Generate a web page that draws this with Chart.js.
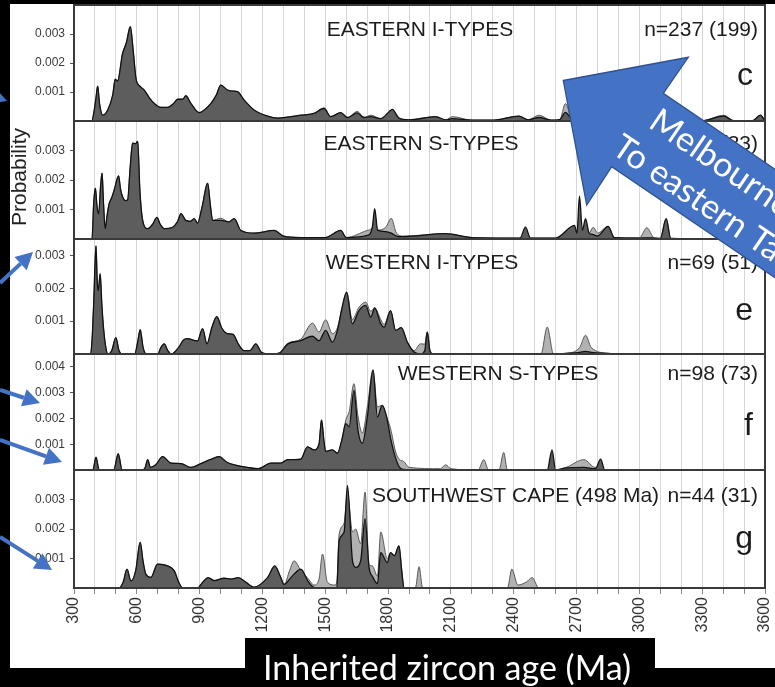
<!DOCTYPE html>
<html>
<head>
<meta charset="utf-8">
<title>Inherited zircon age spectra</title>
<script src="https://cdn.jsdelivr.net/npm/chart.js@4.4.1/dist/chart.umd.min.js"></script>
<style>
  html, body { margin: 0; padding: 0; background: #000; }
  #wrap { position: relative; width: 775px; height: 687px; }
</style>
</head>
<body>
<div id="wrap"><canvas id="c" width="775" height="687"></canvas></div>
<script>
// ---------- x axis ----------
const ageLabels = [300, 600, 900, 1200, 1500, 1800, 2100, 2400, 2700, 3000, 3300, 3600];

// ---------- panel c: Eastern I-types ----------
const eastIAges = [300,385,395,405,413,422,437,461,485,497,508,532,550,569,583,596,615,635,660,683,715,747,775,795,819,834,858,898,925,954,980,1001,1033,1060,1081,1113,1160,1224,1272,1335,1383,1446,1494,1526,1574,1606,1653,1685,1717,1765,1805,1820,1852,1900,2027,2075,2107,2200,2300,2425,2470,2520,2580,2620,2647,2680,2750,2900,3100,3300,3403,3450,3540,3578,3600];
const eastIDark = [0,0,0.0003,0.0008,0.0012,0.0006,0.0002,0.00038,0.0009,0.00144,
  0.00138,0.00233,0.0027,0.00325,0.0024,0.00147,0.0012,0.00107,0.0008,0.00061,
  0.00047,0.00047,0.0006,0.00075,0.00075,0.00087,0.00061,0.00029,0.0004,0.00061,
  0.0009,0.00124,0.00107,0.00103,0.00101,0.00072,0.00038,0.00017,0.0001,0.00015,
  0.0002,0.00026,0.00044,0.00015,0.00029,0.00012,0.00028,0.00012,0.00015,0.00008,
  0.00032,0.0004,0.0001,0.00004,0.00015,0.00004,0.00008,0.00003,0.00003,0.00017,
  0.00004,0.00012,0.00003,0.00005,0.0003,0.00005,0.00002,0.00002,0.00002,0.00001,
  0.00017,0.00001,0.00001,0.0002,0];
const eastILight = [0,0,0.0003,0.0008,0.0012,0.0006,0.0002,0.00038,0.0009,0.00144,
  0.00138,0.00233,0.0027,0.00325,0.0024,0.00147,0.0012,0.00107,0.0008,0.00061,
  0.00047,0.00047,0.0006,0.00075,0.00075,0.00087,0.00061,0.00029,0.0004,0.00061,
  0.0009,0.00124,0.00107,0.00103,0.00101,0.00072,0.00038,0.00017,0.0001,0.00015,
  0.0002,0.00026,0.00044,0.00015,0.00029,0.00012,0.00033,0.00012,0.0002,0.00008,
  0.00032,0.0004,0.0001,0.00004,0.00015,0.00004,0.00015,0.00003,0.00003,0.00017,
  0.00004,0.0002,0.00003,0.00005,0.0006,0.00005,0.00002,0.00002,0.00002,0.00001,
  0.0002,0.00001,0.00001,0.0002,0];

// ---------- panel d: Eastern S-types ----------
const eastSAges = [300,386,394,402,410,418,427,434,441,449,458,468,480,492,513,522,532,545,556,568,580,593,604,615,628,652,675,696,712,731,771,795,811,834,855,874,890,912,938,952,962,1001,1040,1065,1097,1160,1256,1300,1383,1500,1574,1600,1700,1725,1736,1750,1789,1815,1840,1870,2075,2200,2430,2456,2480,2600,2690,2702,2714,2728,2743,2760,2780,2800,2851,2880,3000,3036,3070,3100,3128,3150,3600];
const eastSDark = [0,0,0.0012,0.00172,0.0011,0.00086,0.0018,0.00223,0.0012,0.00035,
  0.0008,0.0012,0.0014,0.00166,0.00214,0.0017,0.00143,0.0013,0.00132,0.0024,
  0.00325,0.00323,0.00331,0.0016,0.00063,0.00035,0.0005,0.00073,0.0005,0.00035,
  0.0004,0.0006,0.00086,0.00063,0.0006,0.00069,0.00054,0.0011,0.00189,0.0011,
  0.00063,0.00063,0.00058,0.00069,0.00029,0.0002,0.00029,0.0001,0.00005,0.00005,
  0.00029,0.00005,0.00012,0.0004,0.00103,0.0003,0.00025,0.0002,0.0001,0.00008,
  0.00018,0.00005,0.00003,0.0004,0.00003,0.00003,0.00046,0.0002,0.00145,0.0003,
  0.00069,0.0002,0.00015,0.0001,0.00043,0.00005,0.00003,0.00004,0.00003,0.00002,
  0.00069,0.00002,0];
const eastSLight = [0,0,0.0012,0.00172,0.0011,0.00086,0.0018,0.00223,0.0012,0.00035,
  0.0008,0.0012,0.0014,0.00166,0.00214,0.0017,0.00143,0.0013,0.00132,0.0024,
  0.00325,0.00323,0.00331,0.0016,0.00063,0.00035,0.0005,0.00073,0.0005,0.00035,
  0.0004,0.0006,0.00086,0.00063,0.0006,0.00069,0.00054,0.0011,0.00189,0.0011,
  0.00063,0.0007,0.00058,0.00069,0.00029,0.0002,0.00029,0.0001,0.00005,0.00005,
  0.00029,0.00005,0.00029,0.0004,0.0008,0.0003,0.0004,0.0007,0.0002,0.0001,
  0.00018,0.00005,0.00003,0.0002,0.00003,0.00003,0.0003,0.0002,0.0004,0.0003,
  0.0005,0.0002,0.0004,0.0002,0.00043,0.00005,0.00004,0.00038,0.00004,0.00002,
  0.00069,0.00002,0];

// ---------- panel e: Western I-types ----------
const westIAges = [300,378,386,394,405,411,416,425,433,442,452,461,480,500,515,532,590,605,616,630,645,700,715,731,748,765,800,822,842,870,890,914,935,958,982,1005,1033,1060,1085,1113,1140,1168,1195,1224,1280,1320,1383,1439,1470,1502,1534,1558,1580,1602,1629,1661,1693,1717,1736,1765,1781,1812,1836,1863,1892,1924,1955,1975,1987,2000,2015,2530,2560,2590,2650,2715,2743,2770,2850,2900,3600];
const westIDark = [0,0,0.0004,0.00153,0.00329,0.0022,0.00193,0.00244,0.0015,0.00072,
  0.0002,0,0.0001,0.0005,0.0001,0,0,0.0004,0.00074,0.0002,
  0,0,0.0002,0.00031,0.0001,0,0.0002,0.00042,0.00047,0.00042,
  0.0004,0.00077,0.00031,0.0008,0.00114,0.0008,0.00062,0.0006,0.0003,0.0001,
  0.0001,0.00031,0.00005,0,0.00003,0.0003,0.00041,0.00054,0.0004,0.00072,
  0.00036,0.00072,0.0014,0.00188,0.00092,0.00132,0.00148,0.00112,0.0014,0.00092,
  0.00082,0.00132,0.00072,0.0008,0.00036,0.00006,0,0.0001,0.00067,0.0001,
  0,0,0,0,0.00002,0.00005,0.00008,0.00005,0.00002,0,
  0];
const westILight = [0,0,0.0004,0.00153,0.00329,0.0022,0.00193,0.00244,0.0015,0.00072,
  0.0002,0,0.0001,0.0005,0.0001,0,0,0.0004,0.00074,0.0002,
  0,0,0.0002,0.00031,0.0001,0,0.0002,0.00042,0.00047,0.00042,
  0.0004,0.00077,0.00031,0.0008,0.00114,0.0008,0.00062,0.0006,0.0003,0.0001,
  0.0001,0.00031,0.00005,0,0.00003,0.00032,0.00045,0.00094,0.00067,0.00104,
  0.00062,0.0008,0.0014,0.00188,0.00105,0.00142,0.00158,0.0013,0.0014,0.00105,
  0.0009,0.00132,0.00072,0.0008,0.00036,0.0001,0.00031,0.0003,0.00067,0.0001,
  0,0,0.00082,0,0.00002,0.0002,0.00057,0.0002,0.00002,0,
  0];

// ---------- panel f: Western S-types ----------
const westSAges = [300,390,405,420,490,511,530,625,640,652,665,690,723,763,811,858,906,950,993,1030,1065,1129,1180,1240,1288,1320,1351,1383,1415,1446,1470,1482,1494,1502,1534,1558,1580,1598,1614,1637,1656,1677,1701,1728,1749,1772,1793,1812,1836,1855,1875,1900,2050,2075,2100,2230,2257,2280,2330,2352,2370,2560,2583,2600,2650,2735,2790,2815,2835,3600];
const westSDark = [0,0,0.0005,0,0,0.00063,0,0,0.0001,0.0004,
  0.0001,0.0002,0.00052,0.00027,0.00025,0.0001,0.00025,0.0004,0.00052,0.0003,
  0.0002,0.0001,0.00005,0.00027,0.00027,0.0004,0.0004,0.00042,0.0009,0.00078,
  0.001,0.00194,0.0011,0.00072,0.00078,0.00065,0.0012,0.0018,0.00168,0.00309,
  0.00155,0.00104,0.00206,0.00388,0.00206,0.00251,0.00206,0.00123,0.00046,0.0001,
  0.00002,0,0,0,0,0,0,0,0,0,
  0,0,0.00078,0,0.00008,0.0001,0.00005,0.00042,0,0];
const westSLight = [0,0,0.0005,0,0,0.00063,0,0,0.0001,0.0004,
  0.0001,0.0002,0.00052,0.00027,0.00025,0.0001,0.00025,0.0004,0.00052,0.0003,
  0.0002,0.0001,0.00005,0.00027,0.00027,0.0004,0.0004,0.00042,0.0009,0.00078,
  0.001,0.00194,0.0011,0.00072,0.00078,0.00065,0.0012,0.00194,0.00226,0.00335,
  0.0021,0.00143,0.00245,0.00388,0.00245,0.00251,0.00206,0.0016,0.0007,0.0004,
  0.00033,0.0001,0.00005,0.0002,0.00005,0,0.0004,0,0,0.00068,
  0,0,0,0,0.0001,0.0004,0.0001,0.0002,0,0];

// ---------- panel g: Southwest Cape ----------
const swCapeAges = [300,516,535,553,572,595,616,630,643,667,699,747,779,800,819,890,915,941,970,1017,1050,1084,1120,1160,1224,1259,1285,1304,1330,1351,1383,1420,1446,1470,1487,1510,1545,1555,1566,1590,1606,1630,1645,1669,1690,1709,1725,1749,1765,1796,1812,1830,1852,1865,1876,1930,1948,1965,2370,2391,2420,2460,2488,2520,3600];
const swCapeDark = [0,0,0.0002,0.00064,0.00024,0.0006,0.00155,0.0009,0.00047,0.00036,
  0.00081,0.00075,0.00058,0.0002,0,0,0.0002,0.00035,0.00025,0.00033,
  0.0003,0.00035,0.0002,0.00003,0.00035,0.00075,0.0004,0.00012,0.0003,0.00047,
  0.00064,0.0002,0.00002,0,0,0,0,0,0.0016,0.0019,
  0.00348,0.00092,0.0007,0.00092,0.00235,0.0007,0.0004,0.00015,0.0012,0.00086,
  0.0012,0.0011,0.00143,0.0006,0,0,0,0,0,0,
  0,0,0,0,0];
const swCapeLight = [0,0,0.0002,0.00064,0.00024,0.0006,0.00155,0.0009,0.00047,0.00036,
  0.00081,0.00075,0.00058,0.0002,0,0,0.0002,0.00035,0.00025,0.00033,
  0.0003,0.00035,0.0002,0.00003,0.00035,0.00075,0.0004,0.00012,0.0006,0.00092,
  0.0006,0.0003,0.0001,0.0003,0.00115,0.0002,0.0001,0.0002,0.0018,0.0022,
  0.0032,0.0019,0.002,0.0015,0.00325,0.0008,0.00075,0.0004,0.0019,0.001,
  0.0012,0.0011,0.00143,0.0006,0,0,0.00072,0,0,0.00064,
  0.0001,0.0002,0.00035,0,0];

// ---------- panel text ----------
const panelTitles = ['EASTERN I-TYPES', 'EASTERN S-TYPES', 'WESTERN I-TYPES', 'WESTERN S-TYPES', 'SOUTHWEST CAPE (498 Ma)'];
const panelCounts = ['n=237 (199)', 'n=45 (33)', 'n=69 (51)', 'n=98 (73)', 'n=44 (31)'];
const panelLetters = ['c', 'd', 'e', 'f', 'g'];
const panelYMax = [0.004, 0.004, 0.0035, 0.0045, 0.004];
const panelYTicks = [
  [0.001, 0.002, 0.003],
  [0.001, 0.002, 0.003],
  [0.001, 0.002, 0.003],
  [0.001, 0.002, 0.003, 0.004],
  [0.001, 0.002, 0.003]
];

const panelSeries = [
  [eastIAges, eastIDark, eastILight],
  [eastSAges, eastSDark, eastSLight],
  [westIAges, westIDark, westILight],
  [westSAges, westSDark, westSLight],
  [swCapeAges, swCapeDark, swCapeLight]
];

// ---------- layout / style ----------
const axisIds = ['yC', 'yD', 'yE', 'yF', 'yG'];
const panelHeights = [116, 118, 115, 116, 118];
const titleX = [420, 421, 422, 498, 372];
const titleAlign = ['center', 'center', 'center', 'center', 'left'];
const titleDy = [31, 29, 30, 26, 32];
const letterDy = [80, 80, 81, 81, 78];
const SANS = '"Liberation Sans", Arial, Helvetica, sans-serif';
const BLUE = '#4472C4';

function toPoints(ages, vals) {
  return ages.map((a, k) => ({ x: a, y: vals[k] }));
}

const datasets = [];
panelSeries.forEach(([ages, dark, light], i) => {
  datasets.push({
    label: panelTitles[i] + ' all',
    data: toPoints(ages, light),
    yAxisID: axisIds[i],
    fill: 'origin',
    backgroundColor: '#b1b1b1',
    borderColor: '#585858',
    borderWidth: 1,
    pointRadius: 0,
    cubicInterpolationMode: 'monotone',
    order: 2
  });
  datasets.push({
    label: panelTitles[i] + ' concordant',
    data: toPoints(ages, dark),
    yAxisID: axisIds[i],
    fill: 'origin',
    backgroundColor: '#5d5d5d',
    borderColor: '#111',
    borderWidth: 1.3,
    pointRadius: 0,
    cubicInterpolationMode: 'monotone',
    order: 1
  });
});

function yAxis(i) {
  return {
    type: 'linear',
    position: 'left',
    stack: 'panels',
    stackWeight: panelHeights[i],
    weight: 5 - i,
    min: 0,
    max: panelYMax[i],
    afterFit(s) {
      s.width = 64;
      s.paddingTop = 0;
      s.paddingBottom = 0;
    },
    afterBuildTicks(s) { s.ticks = panelYTicks[i].map(v => ({ value: v })); },
    ticks: {
      font: { family: SANS, size: 12 },
      color: '#3a3a3a',
      padding: 5,
      callback: v => v.toFixed(3)
    },
    grid: { drawOnChartArea: false, drawTicks: true, tickLength: 4, tickColor: '#555' },
    border: { display: false }
  };
}

const scales = {
  x: {
    type: 'linear',
    position: 'bottom',
    min: 300,
    max: 3600,
    afterFit(s) {
      s.height = 99;
      s.paddingLeft = 0;
      s.paddingRight = 0;
    },
    ticks: {
      stepSize: 100,
      autoSkip: false,
      maxRotation: 90,
      minRotation: 90,
      padding: 3,
      font: { family: SANS, size: 16 },
      color: '#333',
      callback: v => (ageLabels.includes(v) ? String(v) : '')
    },
    grid: { color: '#d6d6d6', lineWidth: 1, drawTicks: true, tickLength: 6, tickColor: '#888' },
    border: { display: false }
  }
};
axisIds.forEach((id, i) => { scales[id] = yAxis(i); });

// page backdrop: black surround with the white figure sheet
const backdrop = {
  id: 'backdrop',
  beforeDraw(chart) {
    const { ctx, width, height } = chart;
    ctx.save();
    ctx.fillStyle = '#000';
    ctx.fillRect(0, 0, width, height);
    ctx.fillStyle = '#fff';
    ctx.fillRect(10, 4, 765, 664);
    ctx.restore();
  }
};

// panel borders, titles, sample counts and panel letters
const panelDecor = {
  id: 'panelDecor',
  afterDatasetsDraw(chart) {
    const { ctx, chartArea: a } = chart;
    ctx.save();
    axisIds.forEach((id, i) => {
      const s = chart.scales[id];
      ctx.strokeStyle = '#3a3a3a';
      ctx.lineWidth = 2;
      ctx.strokeRect(a.left, s.top, a.right - a.left, s.bottom - s.top);

      ctx.fillStyle = '#1c1c1c';
      ctx.textBaseline = 'alphabetic';
      ctx.font = '21px ' + SANS;
      ctx.textAlign = titleAlign[i];
      ctx.fillText(panelTitles[i], titleX[i], s.top + titleDy[i]);
      ctx.textAlign = 'right';
      ctx.fillText(panelCounts[i], a.right - 7, s.top + titleDy[i]);

      ctx.font = '32px ' + SANS;
      ctx.fillText(panelLetters[i], a.right - 12, s.top + letterDy[i]);
    });
    ctx.restore();
  }
};

function smallArrow(ctx, x0, y0, x1, y1) {
  const ang = Math.atan2(y1 - y0, x1 - x0);
  const head = 17, half = 9;
  const bx = x1 - head * Math.cos(ang), by = y1 - head * Math.sin(ang);
  ctx.beginPath();
  ctx.moveTo(x0, y0);
  ctx.lineTo(bx, by);
  ctx.lineWidth = 4;
  ctx.strokeStyle = BLUE;
  ctx.stroke();
  ctx.beginPath();
  ctx.moveTo(x1, y1);
  ctx.lineTo(bx + half * Math.sin(ang), by - half * Math.cos(ang));
  ctx.lineTo(bx - half * Math.sin(ang), by + half * Math.cos(ang));
  ctx.closePath();
  ctx.fillStyle = BLUE;
  ctx.fill();
}

// axis captions and slide annotations
const overlay = {
  id: 'overlay',
  afterDraw(chart) {
    const { ctx } = chart;
    ctx.save();

    // y caption
    ctx.translate(20, 177);
    ctx.rotate(-Math.PI / 2);
    ctx.fillStyle = '#222';
    ctx.font = '21px ' + SANS;
    ctx.textAlign = 'center';
    ctx.textBaseline = 'middle';
    ctx.fillText('Probability', 0, 0);
    ctx.setTransform(1, 0, 0, 1, 0, 0);

    // x caption on a black strip
    ctx.fillStyle = '#000';
    ctx.fillRect(0, 668, 775, 19);
    ctx.fillRect(245, 638, 410, 49);
    ctx.fillStyle = '#fff';
    ctx.font = '34px Lato, "Open Sans", sans-serif';
    ctx.textAlign = 'left';
    ctx.textBaseline = 'alphabetic';
    ctx.fillText('Inherited zircon age (Ma)', 263, 680);

    // pointer arrows at the left margin
    smallArrow(ctx, -40, 84, 7, 101);
    smallArrow(ctx, 0, 283, 33, 252);
    smallArrow(ctx, 0, 390, 40, 403);
    smallArrow(ctx, 0, 440, 62, 462);
    smallArrow(ctx, 0, 537, 52, 570);

    // large block arrow with caption
    const tipX = 563.3, tipY = 80.5;
    const ang = Math.atan2(0.562, 0.827);
    ctx.beginPath();
    ctx.moveTo(tipX, tipY);
    ctx.lineTo(688.3, 57.3);
    ctx.lineTo(663.3, 93.3);
    ctx.lineTo(663.3 + 400 * 0.827, 93.3 + 400 * 0.562);
    ctx.lineTo(611.7 + 400 * 0.827, 166.7 + 400 * 0.562);
    ctx.lineTo(611.7, 166.7);
    ctx.lineTo(586.7, 205);
    ctx.closePath();
    ctx.fillStyle = BLUE;
    ctx.fill();
    ctx.lineWidth = 1.3;
    ctx.strokeStyle = '#2F528F';
    ctx.stroke();

    ctx.translate(tipX, tipY);
    ctx.rotate(ang);
    ctx.fillStyle = '#fff';
    ctx.font = '34px Lato, "Open Sans", sans-serif';
    ctx.textAlign = 'left';
    ctx.textBaseline = 'alphabetic';
    ctx.fillText('Melbourne', 95, -9);
    ctx.fillText('To eastern Tasmania', 79, 33);
    ctx.restore();
  }
};

new Chart(document.getElementById('c'), {
  type: 'line',
  data: { datasets },
  options: {
    responsive: false,
    animation: false,
    layout: { padding: { left: 10, top: 5, right: 10, bottom: 0 } },
    plugins: { legend: { display: false }, tooltip: { enabled: false } },
    scales
  },
  plugins: [backdrop, panelDecor, overlay]
});
</script>
</body>
</html>
